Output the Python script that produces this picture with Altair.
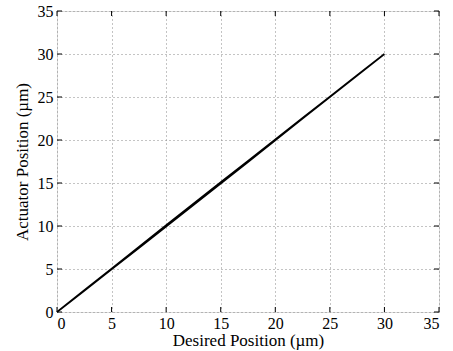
import altair as alt
import pandas as pd

# Desired position (µm) and measured actuator position (µm): rising and falling branches
desired_up = [0, 2.5, 5, 7.5, 10, 12.5, 15, 17.5, 20, 22.5, 25, 27.5, 30]
actuator_up = [0, 2.47, 4.95, 7.43, 9.92, 12.42, 14.93, 17.44, 19.96, 22.48, 25.0, 27.5, 30]
desired_down = [30, 27.5, 25, 22.5, 20, 17.5, 15, 12.5, 10, 7.5, 5, 2.5, 0]
actuator_down = [30, 27.53, 25.05, 22.57, 20.07, 17.58, 15.1, 12.6, 10.1, 7.58, 5.05, 2.53, 0]
ticks = [0, 5, 10, 15, 20, 25, 30, 35]

W, H = 382, 301
FONT = "Liberation Serif, Times New Roman, serif"

rows = []
i = 0
for x, y in zip(desired_up, actuator_up):
    rows.append({"x": x, "y": y, "o": i}); i += 1
for x, y in zip(desired_down, actuator_down):
    rows.append({"x": x, "y": y, "o": i}); i += 1
df = pd.DataFrame(rows)
tdf = pd.DataFrame({"t": ticks})

xs = alt.Scale(domain=[0, 35], nice=False, zero=False)
ys = alt.Scale(domain=[0, 35], nice=False, zero=False)

ax_common = dict(
    values=ticks, grid=True, gridDash=[1, 3], gridColor="#888", gridWidth=1,
    domain=False, ticks=False, labelFont=FONT, labelFontSize=16, labelColor="black",
    titleFont=FONT, titleFontSize=17, titleFontWeight="normal", titleColor="black",
)

line = alt.Chart(df).mark_line(color="black", strokeWidth=1.6).encode(
    x=alt.X("x:Q", scale=xs, axis=alt.Axis(title="Desired Position (µm)", labelPadding=3, titlePadding=1, **ax_common)),
    y=alt.Y("y:Q", scale=ys, axis=alt.Axis(title="Actuator Position (µm)", labelPadding=4, titlePadding=6, **ax_common)),
    order="o:Q",
)

tb = alt.Chart(tdf).mark_rule(color="black", strokeWidth=1).encode(
    x=alt.X("t:Q", scale=xs), y=alt.value(H), y2=alt.value(H - 5))
tt = alt.Chart(tdf).mark_rule(color="black", strokeWidth=1).encode(
    x=alt.X("t:Q", scale=xs), y=alt.value(0), y2=alt.value(5))
tl = alt.Chart(tdf).mark_rule(color="black", strokeWidth=1).encode(
    y=alt.Y("t:Q", scale=ys), x=alt.value(0), x2=alt.value(5))
tr = alt.Chart(tdf).mark_rule(color="black", strokeWidth=1).encode(
    y=alt.Y("t:Q", scale=ys), x=alt.value(W - 5), x2=alt.value(W))

chart = alt.layer(line, tb, tt, tl, tr).properties(
    width=W, height=H,
    autosize=alt.AutoSizeParams(type="none"),
    padding={"left": 57, "top": 11, "right": 14, "bottom": 39},
).configure_view(stroke="black", strokeWidth=1.2).configure(background="white", font=FONT)

chart.save("out.html", embed_options={"renderer": "svg", "actions": False})
